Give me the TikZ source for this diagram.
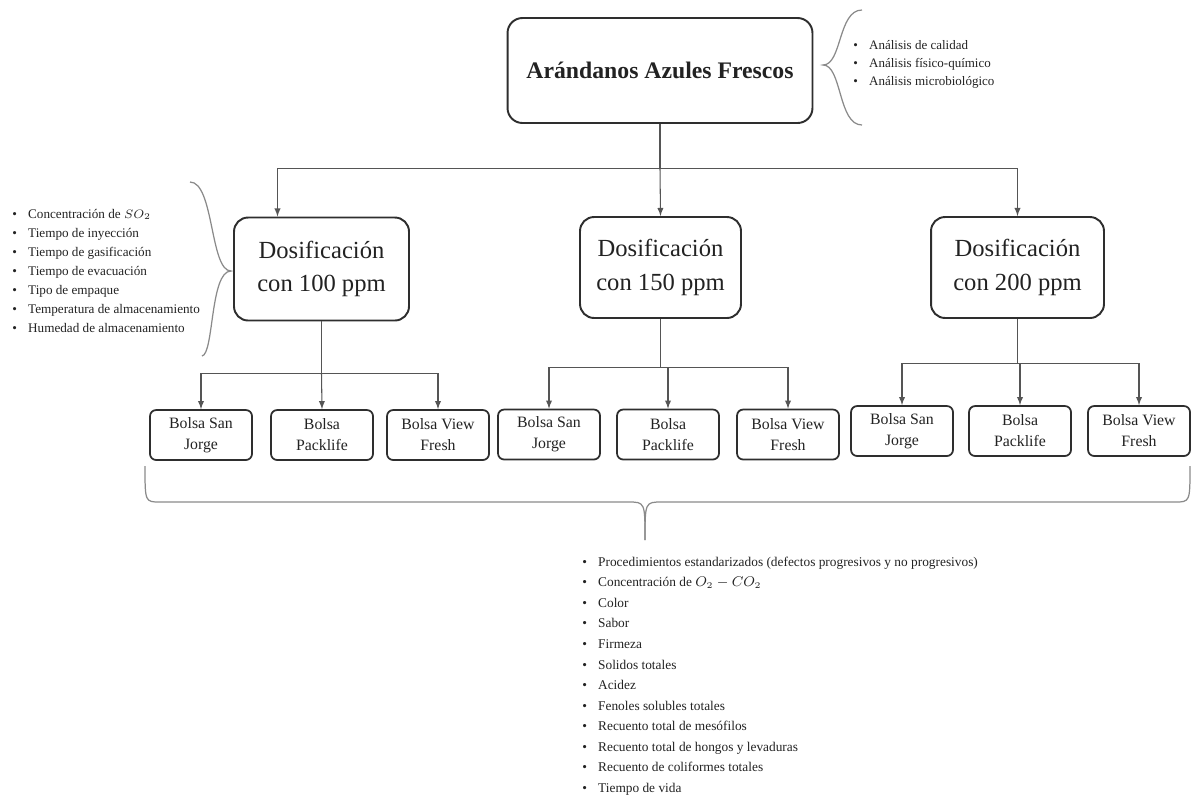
\documentclass[tikz,border=0pt]{standalone}
\usepackage{fontspec}
\setmainfont{Liberation Serif}
\usepackage{tikz, xcolor}
\usetikzlibrary{shapes,arrows,calc}

\definecolor{boxline}{HTML}{2E2E2E}
\definecolor{connline}{HTML}{555555}
\definecolor{braceline}{HTML}{8A8A8A}
\definecolor{textcol}{HTML}{222222}
\newcommand{\bul}{\makebox[9pt][l]{\textbullet}}

\begin{document}
\begin{tikzpicture}[x=0.02cm, y=-0.02cm]
\tikzstyle{boxmain}=[rectangle, rounded corners=8.5pt, draw=boxline, line width=1.1pt, minimum width=6.1cm, minimum height=2.1cm, align=center, text=textcol, font=\fontsize{13.5}{16}\selectfont\bfseries]
\tikzstyle{boxdos}=[rectangle, rounded corners=8pt, draw=boxline, line width=1.1pt, minimum height=2.02cm, align=center, text=textcol, font=\fontsize{14}{19}\selectfont]
\tikzstyle{boxbolsa}=[rectangle, rounded corners=3.5pt, draw=boxline, line width=1pt, minimum width=2.04cm, minimum height=1.0cm, align=center, text=textcol, font=\fontsize{9}{12}\selectfont]
\tikzstyle{drawstyle}=[draw=connline, line width=0.6pt, ->, >=latex]
\tikzstyle{linestyle}=[draw=connline, line width=0.6pt]
\tikzstyle{bracestyle}=[draw=braceline, line width=0.7pt]
\tikzstyle{liststyle}=[anchor=west, inner sep=0pt, align=left, text=textcol]

\useasboundingbox (0,0) rectangle (1192,796);

% main box
\node[boxmain] (A0) at (660,70.5) {Ar\'andanos Azules Frescos};
\path (A0.south) ++(0,45) coordinate (J0);
\draw[linestyle] (A0.south) -- (J0);

% dosificaciones
\node[boxdos, minimum width=3.5cm, minimum height=2.06cm] (D1) at (321.5,269) {Dosificaci\'on\\con 100 ppm};
\node[boxdos, minimum width=3.22cm] (D2) at (660.5,267.5) {Dosificaci\'on\\con 150 ppm};
\node[boxdos, minimum width=3.46cm] (D3) at (1017.5,267.5) {Dosificaci\'on\\con 200 ppm};
\draw[drawstyle] (J0) -| ($(D1.north)+(-44,0)$);
\draw[drawstyle] (J0) -- (D2.north);
\draw[drawstyle] (J0) -| (D3.north);

% bolsas 100 ppm
\node[boxbolsa] (B1x1) at (201,435) {Bolsa San\\Jorge};
\node[boxbolsa] (B1x2) at (322,435) {Bolsa\\Packlife};
\node[boxbolsa] (B1x3) at (438,435) {Bolsa View\\Fresh};
\path (D1.south) ++(0,52) coordinate (J1);
\draw[linestyle] (D1.south) -- (J1);
\draw[drawstyle] (J1) -| (B1x1.north);
\draw[drawstyle] (J1) -- (B1x2.north);
\draw[drawstyle] (J1) -| (B1x3.north);

% bolsas 150 ppm
\node[boxbolsa] (B2x1) at (549,434.5) {Bolsa San\\Jorge};
\node[boxbolsa] (B2x2) at (668,434.5) {Bolsa\\Packlife};
\node[boxbolsa] (B2x3) at (788,434.5) {Bolsa View\\Fresh};
\path (D2.south) ++(0,49) coordinate (J2);
\draw[linestyle] (D2.south) -- (J2);
\draw[drawstyle] (J2) -| (B2x1.north);
\draw[drawstyle] (J2) -| (B2x2.north);
\draw[drawstyle] (J2) -| (B2x3.north);

% bolsas 200 ppm
\node[boxbolsa] (B3x1) at (902,431) {Bolsa San\\Jorge};
\node[boxbolsa] (B3x2) at (1020,431) {Bolsa\\Packlife};
\node[boxbolsa] (B3x3) at (1139,431) {Bolsa View\\Fresh};
\path (D3.south) ++(0,45) coordinate (J3);
\draw[linestyle] (D3.south) -- (J3);
\draw[drawstyle] (J3) -| (B3x1.north);
\draw[drawstyle] (J3) -| (B3x2.north);
\draw[drawstyle] (J3) -| (B3x3.north);

% braces
\draw[bracestyle] (862,10) .. controls (838,10) and (842,65) .. (823,65) .. controls (842,65) and (838,125) .. (862,125);
\draw[bracestyle] (190,182) .. controls (214,182) and (210,271) .. (231,271) .. controls (210,271) and (214,354) .. (202,356);
\draw[bracestyle] (145,466) .. controls (145,502) .. (160,502) -- (628,502) .. controls (645,502) .. (645,540);
\draw[bracestyle] (645,540) .. controls (645,502) .. (662,502) -- (1175,502) .. controls (1190,502) .. (1190,466);

% lists
\node[liststyle, font=\fontsize{7.4}{10.2}\selectfont] (L0) at (853,64) {\bul An\'alisis de calidad\\\bul An\'alisis f\'isico-qu\'imico\\\bul An\'alisis microbiol\'ogico};
\node[liststyle, font=\fontsize{7.5}{10.9}\selectfont] (L1) at (12,271) {\bul Concentraci\'on de $SO_2$\\\bul Tiempo de inyecci\'on\\\bul Tiempo de gasificaci\'on\\\bul Tiempo de evacuaci\'on\\\bul Tipo de empaque\\\bul Temperatura de almacenamiento\\\bul Humedad de almacenamiento};
\node[liststyle, font=\fontsize{7.6}{11.7}\selectfont] (L2) at (582,676) {\bul Procedimientos estandarizados (defectos progresivos y no progresivos)\\\bul Concentraci\'on de $O_2-CO_2$\\\bul Color\\\bul Sabor\\\bul Firmeza\\\bul Solidos totales\\\bul Acidez\\\bul Fenoles solubles totales\\\bul Recuento total de mes\'ofilos\\\bul Recuento total de hongos y levaduras\\\bul Recuento de coliformes totales\\\bul Tiempo de vida};
\end{tikzpicture}
\end{document}
